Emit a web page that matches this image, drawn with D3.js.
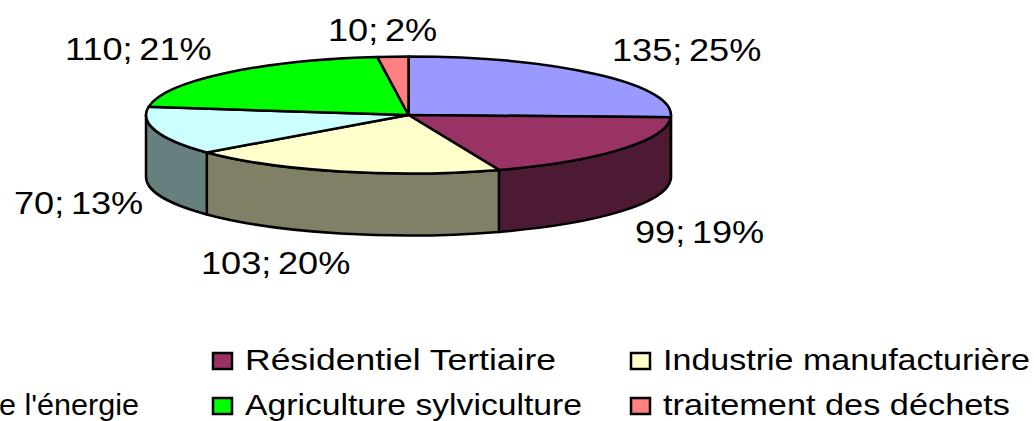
<!DOCTYPE html>
<html>
<head>
<meta charset="utf-8">
<script src="https://cdn.jsdelivr.net/npm/d3@7"></script>
<style>
  html, body { margin: 0; padding: 0; background: #fff; overflow: hidden; }
  text { font-family: "Liberation Sans", Arial, sans-serif; fill: #000; }
</style>
</head>
<body>
<script>
var width = 1034;
var height = 421;

// data, slices clockwise from 12 o'clock
var values = [135, 99, 103, 70, 110, 10];
var percents = [25, 19, 20, 13, 21, 2];
var topColors = ["#9999ff", "#993366", "#ffffcc", "#ccffff", "#00ff00", "#ff8080"];
var sideColors = ["#4d4d80", "#4d1a33", "#808066", "#668080", "#008000", "#804040"];

// legend as far as it can be read, the left column is cut by the page edge
var legendLabels = ["Résidentiel Tertiaire", "Industrie manufacturière", "e l'énergie", "Agriculture sylviculture", "traitement des déchets"];
var legendSlices = [1, 2, 3, 4, 5];

var cx = 408.5, cy = 115, rx = 262.5, ry = 58.5, depth = 62;

var svg = d3.select("body").append("svg")
    .attr("width", width)
    .attr("height", height)
    .style("display", "block");

var arcs = d3.pie().sort(null).value(function (d) { return d; })(values);

//point on the top ellipse
function px(a) { return cx + rx * Math.sin(a); }
function py(a) { return cy - ry * Math.cos(a); }

//front wall of a slice, only the part facing us
function side(d) {
    var a0 = Math.max(d.startAngle, Math.PI / 2);
    var a1 = Math.min(d.endAngle, Math.PI * 1.5);
    if (a1 <= a0) return null;
    return "M" + px(a0) + "," + py(a0)
        + "A" + rx + "," + ry + " 0 0 1 " + px(a1) + "," + py(a1)
        + "V" + (py(a1) + depth)
        + "A" + rx + "," + ry + " 0 0 0 " + px(a0) + "," + (py(a0) + depth)
        + "Z";
}

svg.append("g").selectAll("path")
    .data(arcs)
    .enter()
    .append("path")
    .attr("d", side)
    .attr("fill", function (d) { return sideColors[d.index]; })
    .attr("stroke", "#000")
    .attr("stroke-width", 2.5)
    .attr("stroke-linejoin", "round");

//top of the pie, circle squashed to an ellipse
var arc = d3.arc().innerRadius(0).outerRadius(rx);

svg.append("g")
    .attr("transform", "translate(" + cx + "," + cy + ") scale(1," + (ry / rx) + ")")
    .selectAll("path")
    .data(arcs)
    .enter()
    .append("path")
    .attr("d", arc)
    .attr("fill", function (d) { return topColors[d.index]; })
    .attr("stroke", "#000")
    .attr("stroke-width", 2.5)
    .attr("stroke-linejoin", "round")
    .attr("vector-effect", "non-scaling-stroke");

//data labels
var labelPos = [[612, 61], [635, 243], [201, 274], [14, 214], [65, 60], [328, 41]];

svg.append("g").selectAll("text")
    .data(values)
    .enter()
    .append("text")
    .attr("transform", function (d, i) {
        return "translate(" + labelPos[i][0] + "," + labelPos[i][1] + ") scale(1.13,1)";
    })
    .attr("font-size", 32)
    .attr("word-spacing", -3)
    .text(function (d, i) { return d + "; " + percents[i] + "%"; });

//legend
var legendPos = [[214, 370], [632, 370], [0, 415], [214, 415], [632, 415]];
var legendWidths = [311, 367, 140, 337, 347];

var legend = svg.append("g").selectAll("g")
    .data(legendLabels)
    .enter()
    .append("g")
    .attr("transform", function (d, i) {
        return "translate(" + legendPos[i][0] + "," + legendPos[i][1] + ")";
    });

legend.filter(function (d, i) { return legendPos[i][0] > 0; })
    .append("rect")
    .attr("x", -1)
    .attr("y", -17)
    .attr("width", 19)
    .attr("height", 16)
    .attr("fill", function (d) { return topColors[legendSlices[legendLabels.indexOf(d)]]; })
    .attr("stroke", "#000")
    .attr("stroke-width", 2.5);

legend.append("text")
    .attr("x", function (d, i) { return legendPos[i][0] > 0 ? 31 : -1; })
    .attr("font-size", 30)
    .attr("textLength", function (d, i) { return legendWidths[i]; })
    .attr("lengthAdjust", "spacingAndGlyphs")
    .text(function (d) { return d; });
</script>
</body>
</html>
